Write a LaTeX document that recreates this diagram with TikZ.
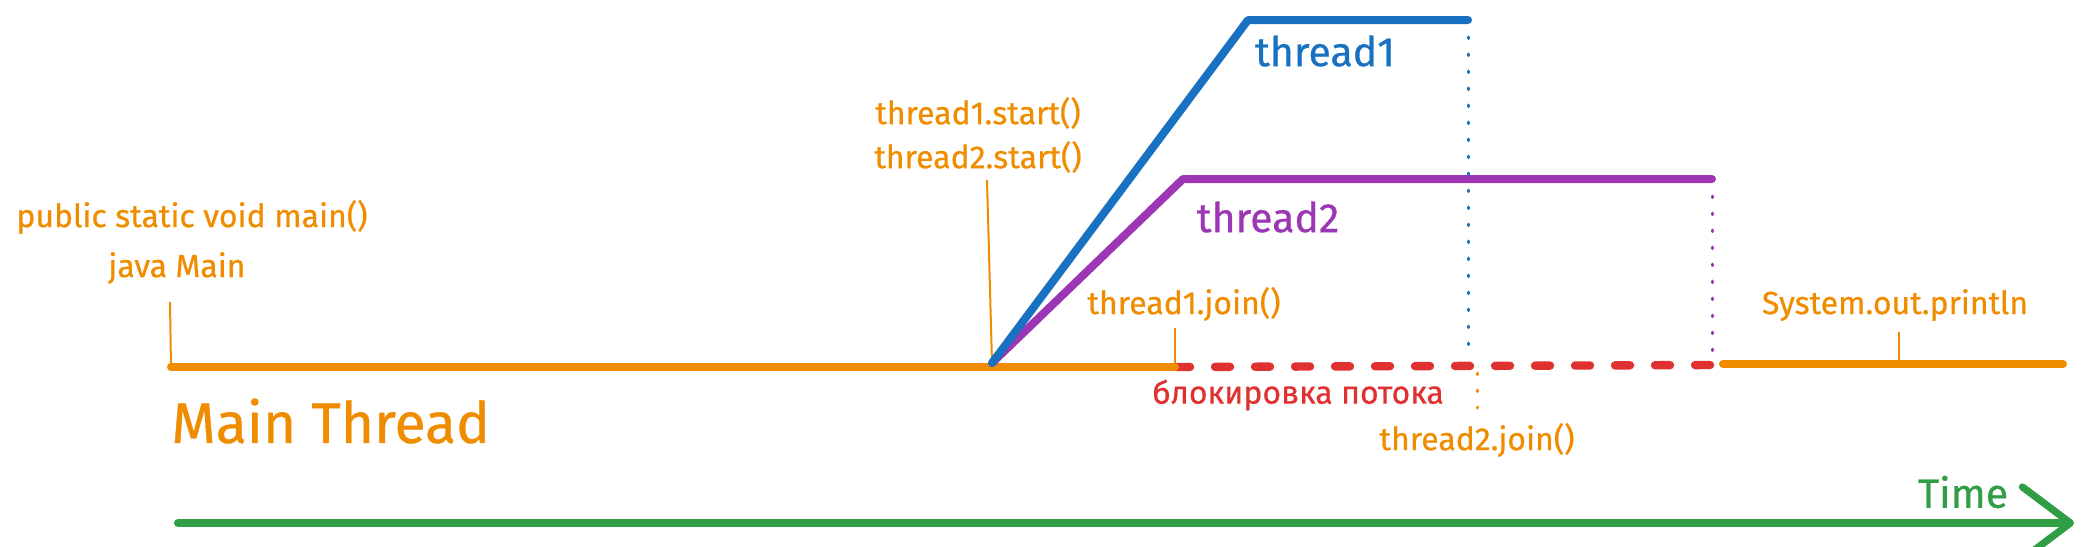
\documentclass[tikz,border=0pt]{standalone}
\usepackage{fontspec}
\setmainfont{Fira Sans}[FakeBold=0.6]
\usetikzlibrary{arrows.meta,positioning}
\definecolor{Orange}{HTML}{F08C00}
\definecolor{Blue}{HTML}{1971C2}
\definecolor{Purple}{HTML}{9C36B5}
\definecolor{Red}{HTML}{E03131}
\definecolor{Green}{HTML}{2F9E44}
\tikzset{mainline/.style ={
        draw=Orange,
        line width=4pt,
        line cap=round,
    },
    tone/.style ={
        draw=Blue,
        line width=4pt,
        line cap=round,
        line join=round,
    },
    ttwo/.style ={
        draw=Purple,
        line width=4pt,
        line cap=round,
        line join=round,
    },
    blocked/.style ={
        draw=Red,
        line width=4.2pt,
        line cap=round,
        dash pattern=on 7.5pt off 12.5pt,
    },
    tick/.style ={
        draw=Orange,
        line width=1pt,
    },
    dots/.style ={
        line width=1.5pt,
        line cap=round,
        dash pattern=on 0.8pt off 7.7pt,
    },
    timeline/.style ={
        draw=Green,
        line width=4pt,
        line cap=round,
        -{Straight Barb[length=24pt,width=36pt,line width=3.6pt,round]},
    },
    lbl/.style ={
        text=Orange,
        font=\fontsize{16}{19}\selectfont,
        inner sep=0pt,
    },
    big/.style ={
        inner sep=0pt,
        font=\fontsize{20.5}{24}\selectfont,
    }}
\begin{document}
\begin{tikzpicture}[x=0.5pt,y=-0.5pt]
	\useasboundingbox (0,0) rectangle (2092,546);
	% points of the time lines
	\coordinate (start) at (171,367);
	\coordinate (fork) at (992,363);
	\coordinate (join1) at (1175,367);
	\coordinate (t1up) at (1248,20);
	\coordinate (t1end) at (1468,20);
	\coordinate (t1drop) at (1468,350);
	\coordinate (t2up) at (1183,179);
	\coordinate (t2end) at (1712,179);
	\coordinate (t2drop) at (1712,360);
	\coordinate (block2) at (1712,365);
	\coordinate (resume) at (1723,364);
	\coordinate (finish) at (2063,364);
	\coordinate (tstart) at (178,523);
	\coordinate (tend) at (2074,523);
	% labels
	\node[lbl] (jmain) at (177,268) {java Main};
	\node[lbl] (psvm) at (192,217) {public static void main()};
	\node[big, text=Orange, font=\fontsize{28.5}{32}\selectfont, anchor=west] (mthread) at (171,421) {Main Thread};
	\node[lbl] (start2) at (978,157) {thread2.start()};
	\node[lbl, above=22pt of start2.center, anchor=center] (start1) {thread1.start()};
	\node[big, text=Blue] (tname1) at (1325,51) {thread1};
	\node[big, text=Purple] (tname2) at (1268,217) {thread2};
	\node[lbl] (jone) at (1184,304) {thread1.join()};
	\node[lbl, text=Red] (block) at (1298,395) {блокировка потока};
	\node[lbl] (jtwo) at (1477,440) {thread2.join()};
	\node[lbl] (print) at (1895,305) {System.out.println};
	\node[big, text=Green] (time) at (1963,492) {Time};
	% ticks
	\draw[tick] (170,302) -- (start);
	\draw[tick] (987,180) -- (fork);
	\draw[tick] (1175,328) -- (join1);
	\draw[draw=Orange, dots] (1477,373) -- (1477,408);
	\draw[tick] (1899,332) -- (1899,364);
	% threads
	\draw[blocked] (join1) -- (block2);
	\draw[mainline] (start) -- (join1);
	\draw[mainline] (resume) -- (finish);
	\draw[ttwo] (fork) -- (t2up) -- (t2end);
	\draw[tone] (fork) -- (t1up) -- (t1end);
	\draw[draw=Blue, dots] (t1end) -- (t1drop);
	\draw[draw=Purple, dots] (t2end) -- (t2drop);
	\draw[timeline] (tstart) -- (tend);
\end{tikzpicture}
\end{document}
